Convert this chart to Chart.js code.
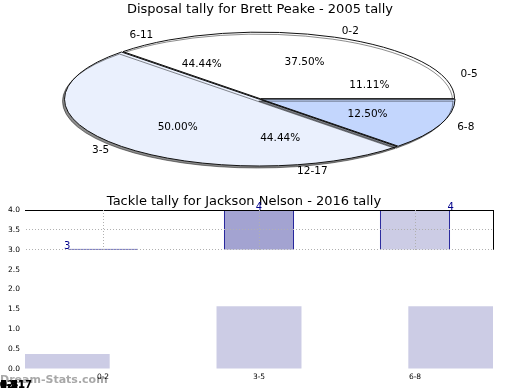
<!DOCTYPE html>
<html>
<head>
<meta charset="utf-8">
<script src="https://cdn.jsdelivr.net/npm/chart.js@4.4.0/dist/chart.umd.min.js"></script>
<style>
  html, body { margin: 0; padding: 0; width: 520px; height: 390px; overflow: hidden; background: #fff; }
  #pieBox { position: absolute; left: 0; top: 0; width: 520px; height: 190px; }
  #barBox { position: absolute; left: -5px; top: 190px; width: 525px; height: 206px; }
</style>
</head>
<body>
<div id="pieBox"><canvas id="pieChart"></canvas></div>
<div id="barBox"><canvas id="barChart"></canvas></div>
<script>
// disposals 2005 - two tallies drawn on the same pie
const pieLabels = ["0-2", "3-5", "6-8"];
const pieValues = [3, 4, 1];
const pieColors = ["#ffffff", "#eaf0fd", "#c3d6fd"];
const pie2Labels = ["0-5", "6-11", "12-17"];
const pie2Values = [1, 4, 4];

// tackles 2016
const barLabels = ["0-2", "3-5", "6-8"];
const barLow = [3, 3, 3];
const barHigh = [3, 4, 4];
const barColors = ["#00008b", "#a3a3d1", "#cccce5"];
const valueLabels = ["3", "4", "4"];
const shadeValues = [0.38, 1.58, 1.58];

const FONT = "'DejaVu Sans', sans-serif";
Chart.defaults.font.family = FONT;
Chart.defaults.color = "#000";

// the pie is drawn squashed into an ellipse
const ellipse = { cx: 260, cy: 99, rx: 194, ry: 66.5 };

function pct(vals, i) {
  const sum = vals.reduce((a, b) => a + b, 0);
  return (vals[i] / sum * 100).toFixed(2) + "%";
}

const squashPie = {
  id: "squashPie",
  beforeDatasetsDraw(chart) {
    const ctx = chart.ctx;
    const arc = chart.getDatasetMeta(0).data[0];
    const R = arc.outerRadius;
    ctx.save();
    ctx.translate(ellipse.cx, ellipse.cy);
    ctx.scale(ellipse.rx / R, -ellipse.ry / R);
    ctx.translate(-arc.x, -arc.y);
    ctx.shadowColor = "rgba(0,0,0,0.45)";
    ctx.shadowOffsetX = -2;
    ctx.shadowOffsetY = 2;
    // keep the outline 1px thick whatever the squash
    const stroke = ctx.stroke;
    ctx.stroke = function () {
      this.save();
      this.setTransform(1, 0, 0, 1, 0, 0);
      stroke.call(this);
      this.restore();
    };
  },
  afterDatasetsDraw(chart) {
    const ctx = chart.ctx;
    delete ctx.stroke;
    ctx.restore();
  },
  afterDraw(chart) {
    const ctx = chart.ctx;
    ctx.save();
    ctx.font = "10.5px " + FONT;
    ctx.fillStyle = "#000";
    ctx.textBaseline = "middle";
    [[pieLabels, pieValues], [pie2Labels, pie2Values]].forEach(([names, vals], di) => {
      chart.getDatasetMeta(di).data.forEach((arc, i) => {
        const mid = (arc.startAngle + arc.endAngle) / 2;
        const c = Math.cos(mid), s = Math.sin(mid);
        ctx.textAlign = "center";
        ctx.fillText(pct(vals, i), ellipse.cx + 0.6 * ellipse.rx * c, ellipse.cy - 0.6 * ellipse.ry * s);
        ctx.textAlign = c >= 0 ? "left" : "right";
        ctx.fillText(names[i], ellipse.cx + 1.1 * ellipse.rx * c, ellipse.cy - 1.1 * ellipse.ry * s);
      });
    });
    ctx.restore();
  }
};

new Chart(document.getElementById("pieChart").getContext("2d"), {
  type: "pie",
  data: {
    labels: pieLabels,
    datasets: [
      {
        data: pieValues,
        backgroundColor: pieColors,
        borderColor: "#111",
        borderWidth: 1,
        offset: 1.5
      },
      {
        data: pie2Values,
        backgroundColor: "rgba(0,0,0,0)",
        borderWidth: 0,
        weight: 0
      }
    ]
  },
  options: {
    responsive: true,
    maintainAspectRatio: false,
    animation: false,
    events: [],
    rotation: 90,
    plugins: {
      legend: { display: false },
      tooltip: { enabled: false },
      title: {
        display: true,
        text: "Disposal tally for Brett Peake - 2005 tally",
        font: { size: 13, weight: "normal" },
        color: "#000",
        padding: { top: 2, bottom: 4 }
      }
    }
  },
  plugins: [squashPie]
});

const barFrame = {
  id: "barFrame",
  beforeDraw(chart) {
    const ctx = chart.ctx;
    ctx.save();
    ctx.font = "bold 11px " + FONT;
    ctx.fillStyle = "#a8a8a8";
    ctx.textBaseline = "middle";
    ctx.textAlign = "left";
    ctx.fillText("Dream-Stats.com", 5, 190.5);
    ctx.restore();
  },
  beforeDatasetsDraw(chart) {
    const { ctx, chartArea } = chart;
    const y3 = chart.scales.y.getPixelForValue(3);
    ctx.save();
    ctx.fillStyle = "#fff";
    ctx.fillRect(chartArea.left + 1, y3 + 1, chartArea.right - chartArea.left + 2, chartArea.bottom - y3 + 2);
    ctx.restore();
  },
  afterDatasetsDraw(chart) {
    const { ctx, chartArea } = chart;
    const y = chart.scales.y;
    const y3 = y.getPixelForValue(3);
    ctx.save();
    ctx.strokeStyle = "#000";
    ctx.lineWidth = 1;
    ctx.beginPath();
    ctx.moveTo(chartArea.left, Math.round(chartArea.top) + 0.5);
    ctx.lineTo(chartArea.right, Math.round(chartArea.top) + 0.5);
    ctx.moveTo(Math.round(chartArea.right) + 0.5, chartArea.top);
    ctx.lineTo(Math.round(chartArea.right) + 0.5, y3);
    ctx.stroke();
    // value labels
    ctx.font = "10px " + FONT;
    ctx.fillStyle = "#00008b";
    ctx.textAlign = "center";
    ctx.textBaseline = "bottom";
    chart.getDatasetMeta(1).data.forEach((bar, i) => {
      ctx.fillText(valueLabels[i], bar.x, y.getPixelForValue(barHigh[i]) + 2);
    });
    // overlapped legend texts in the corner
    ctx.font = "bold 10px " + FONT;
    ctx.fillStyle = "#000";
    ctx.textAlign = "left";
    ctx.textBaseline = "middle";
    pieLabels.concat(pie2Labels).forEach(t => ctx.fillText(t, 5, 195.5));
    ctx.restore();
    // grid goes over the bars, only in the framed upper band
    ctx.save();
    ctx.beginPath();
    ctx.rect(0, chartArea.top - 1, chart.width, y3 - chartArea.top + 2);
    ctx.clip();
  },
  afterDraw(chart) {
    chart.ctx.restore();
  }
};

new Chart(document.getElementById("barChart").getContext("2d"), {
  type: "bar",
  data: {
    labels: barLabels,
    datasets: [
      {
        label: "tally",
        data: barLabels.map((_, i) => [barLow[i], barHigh[i]]),
        backgroundColor: barColors,
        borderColor: "#00008b",
        borderWidth: { left: 1, right: 1, top: 1, bottom: 0 },
        borderSkipped: false,
        minBarLength: 1,
        grouped: false,
        barPercentage: 0.45,
        categoryPercentage: 1,
        xAxisID: "x"
      },
      {
        label: "shade",
        data: shadeValues.map((v, i) => ({ x: i, y: v })),
        backgroundColor: "#cccce5",
        borderWidth: 0,
        grouped: false,
        barPercentage: 0.443,
        categoryPercentage: 1,
        xAxisID: "x2"
      }
    ]
  },
  options: {
    responsive: true,
    maintainAspectRatio: false,
    animation: false,
    events: [],
    layout: { padding: { right: 27 } },
    plugins: {
      legend: { display: false },
      tooltip: { enabled: false },
      title: {
        display: true,
        text: "Tackle tally for Jackson Nelson - 2016 tally",
        font: { size: 13, weight: "normal" },
        color: "#000",
        padding: { top: 4, bottom: 0.4 }
      }
    },
    scales: {
      x: {
        type: "category",
        offset: true,
        grid: { offset: false, color: "#b0b0b0", drawTicks: false, z: 1 },
        border: { display: false, dash: [1, 2] },
        ticks: { font: { size: 7.5 }, padding: 4, maxRotation: 0 },
        title: { display: true, text: "Frequency", font: { size: 11 }, padding: { top: 0, bottom: 0 } },
        afterFit(scale) { scale.height = 27; }
      },
      x2: {
        type: "linear",
        display: false,
        offset: false,
        grid: { offset: false },
        min: -0.22,
        max: 2.22,
        ticks: { stepSize: 1, includeBounds: false }
      },
      y: {
        min: 0,
        max: 4,
        ticks: {
          stepSize: 0.5,
          font: { size: 7.5 },
          padding: 5,
          callback: v => v.toFixed(1)
        },
        grid: {
          color: c => (c.tick && c.tick.value >= 3 && c.tick.value < 4) ? "#b0b0b0" : "rgba(0,0,0,0)",
          drawTicks: false,
          z: 1
        },
        border: { display: true, color: "#000", width: 1, dash: [1, 2] },
        title: { display: true, text: "Stat Intervals", font: { size: 11 }, padding: { top: 0, bottom: 0 } },
        afterFit(scale) { scale.width = 30; }
      }
    }
  },
  plugins: [barFrame]
});
</script>
</body>
</html>
